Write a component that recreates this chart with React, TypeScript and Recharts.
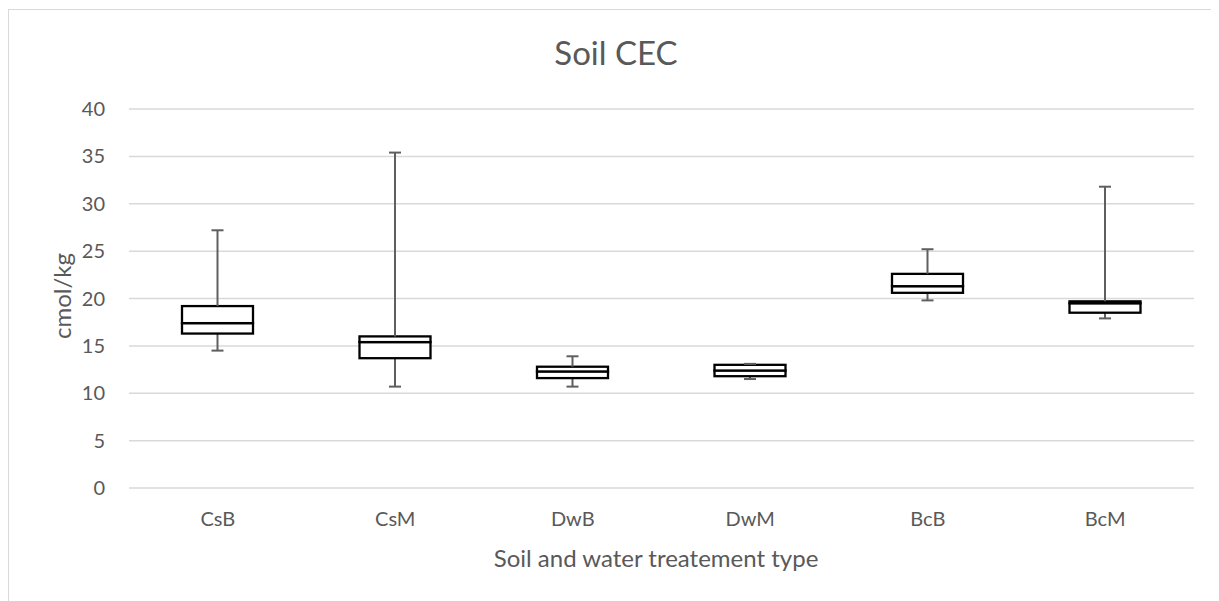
import React from 'react';
import { BarChart, Bar, XAxis, YAxis, CartesianGrid } from 'recharts';

// box plot summary per treatment
const categories = ['CsB', 'CsM', 'DwB', 'DwM', 'BcB', 'BcM'];
const mins = [14.5, 10.7, 10.7, 11.5, 19.8, 17.9];
const q1s = [16.3, 13.7, 11.6, 11.8, 20.6, 18.5];
const medians = [17.4, 15.4, 12.3, 12.4, 21.3, 19.5];
const q3s = [19.2, 16.0, 12.8, 13.0, 22.6, 19.7];
const maxs = [27.2, 35.4, 13.9, 13.1, 25.2, 31.8];
const yTicks = [0, 5, 10, 15, 20, 25, 30, 35, 40];

const FONT = 'Lato, "Open Sans", sans-serif';
const TEXT = '#595959';
const GRID = '#d9d9d9';
const WHISKER = '#5f5f5f';

// stacked segments: invisible base, lower whisker, two box halves, upper whisker
const data = categories.map((name, i) => ({
  name,
  base: mins[i],
  lowWhisker: q1s[i] - mins[i],
  boxLow: medians[i] - q1s[i],
  boxHigh: q3s[i] - medians[i],
  highWhisker: maxs[i] - q3s[i],
}));

const LowWhisker = ({ x, y, width, height }: any) => {
  const cx = x + width / 2;
  return (
    <g stroke={WHISKER} strokeWidth={2}>
      <line x1={cx} x2={cx} y1={y} y2={y + height} />
      <line x1={cx - 6} x2={cx + 6} y1={y + height} y2={y + height} />
    </g>
  );
};

const HighWhisker = ({ x, y, width, height }: any) => {
  const cx = x + width / 2;
  return (
    <g stroke={WHISKER} strokeWidth={2}>
      <line x1={cx} x2={cx} y1={y} y2={y + height} />
      <line x1={cx - 6} x2={cx + 6} y1={y} y2={y} />
    </g>
  );
};

const BoxHalf = ({ x, y, width, height }: any) => (
  <rect x={x} y={y} width={width} height={Math.max(height, 0.5)} fill="#fff" stroke="#000" strokeWidth={2.3} />
);

export default function App() {
  return (
    <div style={{ position: 'relative', width: 1211, height: 593, background: '#fff', fontFamily: FONT }}>
      <div
        style={{
          position: 'absolute',
          left: 0,
          top: 1,
          right: 0,
          height: 620,
          borderTop: `1.5px solid ${GRID}`,
          borderLeft: `1.5px solid ${GRID}`,
        }}
      />
      <BarChart
        width={1203}
        height={593}
        data={data}
        margin={{ top: 101, right: 17, left: 61, bottom: 83 }}
        barSize={71}
        style={{ position: 'absolute', left: 0, top: 0 }}
      >
        <CartesianGrid vertical={false} stroke={GRID} strokeWidth={1.5} />
        <XAxis
          dataKey="name"
          axisLine={false}
          tickLine={false}
          interval={0}
          height={30}
          tickMargin={18}
          tick={{ fill: TEXT, fontSize: 20, fontFamily: FONT }}
        />
        <YAxis
          domain={[0, 40]}
          ticks={yTicks}
          width={60}
          axisLine={false}
          tickLine={false}
          tickMargin={18}
          tick={{ fill: TEXT, fontSize: 20, fontFamily: FONT }}
        />
        <Bar dataKey="base" stackId="box" fill="transparent" isAnimationActive={false} />
        <Bar dataKey="lowWhisker" stackId="box" shape={<LowWhisker />} isAnimationActive={false} />
        <Bar dataKey="boxLow" stackId="box" shape={<BoxHalf />} isAnimationActive={false} />
        <Bar dataKey="boxHigh" stackId="box" shape={<BoxHalf />} isAnimationActive={false} />
        <Bar dataKey="highWhisker" stackId="box" shape={<HighWhisker />} isAnimationActive={false} />
      </BarChart>
      <div
        style={{
          position: 'absolute',
          left: 608,
          top: 27.5,
          transform: 'translateX(-50%)',
          fontSize: 33,
          lineHeight: 1,
          color: TEXT,
          whiteSpace: 'nowrap',
        }}
      >
        Soil CEC
      </div>
      <div
        style={{
          position: 'absolute',
          left: 53.5,
          top: 288,
          transform: 'translate(-50%, -50%) rotate(-90deg)',
          fontSize: 24,
          lineHeight: 1,
          color: TEXT,
          whiteSpace: 'nowrap',
        }}
      >
        cmol/kg
      </div>
      <div
        style={{
          position: 'absolute',
          left: 648,
          top: 537.5,
          transform: 'translateX(-50%)',
          fontSize: 24,
          lineHeight: 1,
          color: TEXT,
          whiteSpace: 'nowrap',
        }}
      >
        Soil and water treatement type
      </div>
    </div>
  );
}
